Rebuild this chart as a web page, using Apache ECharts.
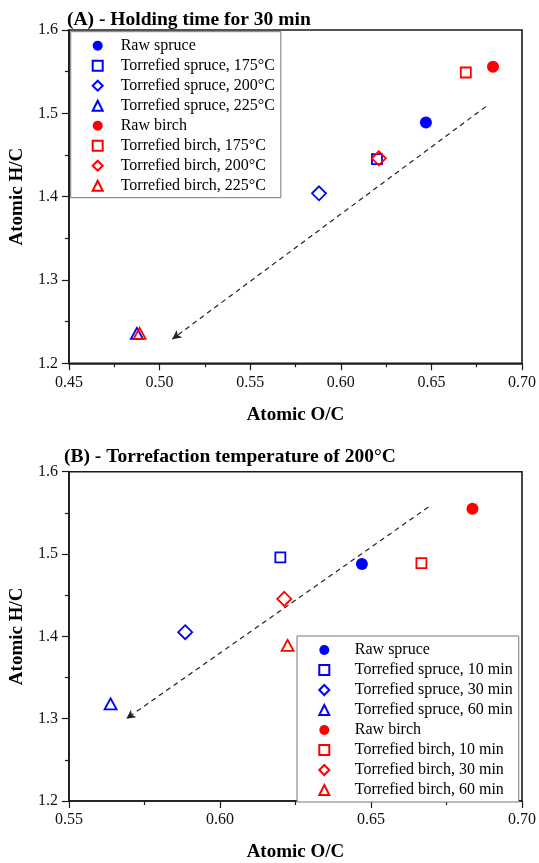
<!DOCTYPE html>
<html>
<head>
<meta charset="utf-8">
<script src="https://cdn.jsdelivr.net/npm/echarts@6/dist/echarts.min.js"></script>
<style>
  html, body { margin: 0; padding: 0; background: #fff; }
  #chart { width: 539px; height: 863px; }
</style>
</head>
<body>
<div id="chart"></div>
<script>
// Panel A: holding time of 30 min, different torrefaction temperatures
const aNames = ['Raw spruce', 'Torrefied spruce, 175°C', 'Torrefied spruce, 200°C', 'Torrefied spruce, 225°C',
                'Raw birch', 'Torrefied birch, 175°C', 'Torrefied birch, 200°C', 'Torrefied birch, 225°C'];
const aOC = [0.647, 0.620, 0.588, 0.4875, 0.684, 0.669, 0.621, 0.489];
const aHC = [1.489, 1.445, 1.404, 1.236, 1.556, 1.549, 1.446, 1.236];
const aArrow = [[0.680, 1.508], [0.507, 1.229]];
const aXTicks = [0.45, 0.50, 0.55, 0.60, 0.65, 0.70];

// Panel B: torrefaction at 200°C, different holding times
const bNames = ['Raw spruce', 'Torrefied spruce, 10 min', 'Torrefied spruce, 30 min', 'Torrefied spruce, 60 min',
                'Raw birch', 'Torrefied birch, 10 min', 'Torrefied birch, 30 min', 'Torrefied birch, 60 min'];
const bOC = [0.647, 0.620, 0.5885, 0.5638, 0.6836, 0.6667, 0.6213, 0.6224];
const bHC = [1.488, 1.496, 1.405, 1.318, 1.555, 1.489, 1.4455, 1.389];
const bArrow = [[0.669, 1.557], [0.569, 1.300]];
const bXTicks = [0.55, 0.60, 0.65, 0.70];

const yTicks = [1.2, 1.3, 1.4, 1.5, 1.6];

const FONT = '"Liberation Serif", "Times New Roman", serif';
const AXIS = '#1a1a1a';
const colors = ['#0000ff', '#0000ff', '#0000ff', '#0000ff', '#ff0000', '#ff0000', '#ff0000', '#ff0000'];
const shapes = ['circle', 'rect', 'diamond', 'triangle', 'circle', 'rect', 'diamond', 'triangle'];
const sizes = [12, [10, 10], [14, 14], [12, 11], 12, [10, 10], [14, 14], [12, 11]];

function xAxisFor(idx, ticks) {
  return {
    type: 'value', gridIndex: idx,
    min: ticks[0], max: ticks[ticks.length - 1], interval: 0.05,
    name: 'Atomic O/C', nameLocation: 'middle', nameGap: 42,
    nameTextStyle: { fontFamily: FONT, fontWeight: 'bold', fontSize: 19, color: '#000' },
    axisLine: { lineStyle: { color: AXIS, width: 1.6 } },
    axisTick: { show: true, inside: false, length: 7, lineStyle: { color: AXIS, width: 1.2 } },
    minorTick: { show: true, splitNumber: 2, length: 4, lineStyle: { color: AXIS, width: 1.2 } },
    axisLabel: { fontFamily: FONT, fontSize: 16, color: '#111', margin: 11, formatter: v => v.toFixed(2) },
    splitLine: { show: false }
  };
}
function yAxisFor(idx) {
  return {
    type: 'value', gridIndex: idx,
    min: yTicks[0], max: yTicks[yTicks.length - 1], interval: 0.1,
    name: 'Atomic H/C', nameLocation: 'middle', nameGap: 32,
    nameTextStyle: { fontFamily: FONT, fontWeight: 'bold', fontSize: 19, color: '#000' },
    axisLine: { lineStyle: { color: AXIS, width: 1.6 } },
    axisTick: { show: true, inside: false, length: 7, lineStyle: { color: AXIS, width: 1.2 } },
    minorTick: { show: true, splitNumber: 2, length: 4, lineStyle: { color: AXIS, width: 1.2 } },
    axisLabel: { fontFamily: FONT, fontSize: 16, color: '#111', margin: 11, formatter: v => v.toFixed(1) },
    splitLine: { show: false }
  };
}

function pointSeries(names, xs, ys, idx) {
  return names.map((name, i) => {
    const filled = shapes[i] === 'circle';
    return {
      type: 'scatter', name: name, xAxisIndex: idx, yAxisIndex: idx,
      symbol: shapes[i], symbolSize: sizes[i],
      itemStyle: filled
        ? { color: colors[i], borderWidth: 0, opacity: 1 }
        : { color: 'rgba(255,255,255,0)', borderColor: colors[i], borderWidth: 1.8, opacity: 1 },
      emphasis: { disabled: true },
      data: [[xs[i], ys[i]]],
      z: 3 + i
    };
  });
}

function arrowSeries(arrow, idx) {
  return {
    type: 'line', xAxisIndex: idx, yAxisIndex: idx, data: [], silent: true,
    markLine: {
      silent: true, symbol: ['none', 'arrow'], symbolSize: [7, 9],
      label: { show: false },
      lineStyle: { color: '#222', width: 1.2, type: [5, 4] },
      emphasis: { disabled: true },
      data: [[{ coord: arrow[0] }, { coord: arrow[1] }]]
    }
  };
}

function legendFor(names, left, top, padding, textPad) {
  return {
    orient: 'vertical', left: left, top: top, data: names,
    itemWidth: 10, itemHeight: 10, itemGap: 4,
    padding: padding, borderColor: '#777', borderWidth: 1,
    backgroundColor: '#fff', selectedMode: false,
    textStyle: { fontFamily: FONT, fontSize: 16, color: '#000', lineHeight: 16, padding: [0, 0, 0, textPad] }
  };
}

const chart = echarts.init(document.getElementById('chart'), null, { renderer: 'canvas' });
chart.setOption({
  animation: false,
  backgroundColor: '#fff',
  title: [
    { text: '(A) - Holding time for 30 min', left: 67, top: 10, padding: 0,
      textStyle: { fontFamily: FONT, fontWeight: 'bold', fontSize: 19.5, color: '#000' } },
    { text: '(B) - Torrefaction temperature of 200°C', left: 64, top: 447, padding: 0,
      textStyle: { fontFamily: FONT, fontWeight: 'bold', fontSize: 19.5, color: '#000' } }
  ],
  grid: [
    { left: 67.7, top: 30, width: 455.6, height: 333.3, show: true, borderColor: AXIS, borderWidth: 1.6, backgroundColor: 'transparent' },
    { left: 67.7, top: 471.7, width: 456.3, height: 333.3, show: true, borderColor: AXIS, borderWidth: 1.6, backgroundColor: 'transparent' }
  ],
  xAxis: [xAxisFor(0, aXTicks), xAxisFor(1, bXTicks)],
  yAxis: [yAxisFor(0), yAxisFor(1)],
  legend: [
    legendFor(aNames, 70.7, 31.7, [6, 6, 4, 21], 13),
    legendFor(bNames, 297, 636, [6, 6, 4, 21.3], 20.5)
  ],
  series: [
    arrowSeries(aArrow, 0),
    arrowSeries(bArrow, 1),
    ...pointSeries(aNames, aOC, aHC, 0),
    ...pointSeries(bNames, bOC, bHC, 1)
  ]
});
</script>
</body>
</html>
